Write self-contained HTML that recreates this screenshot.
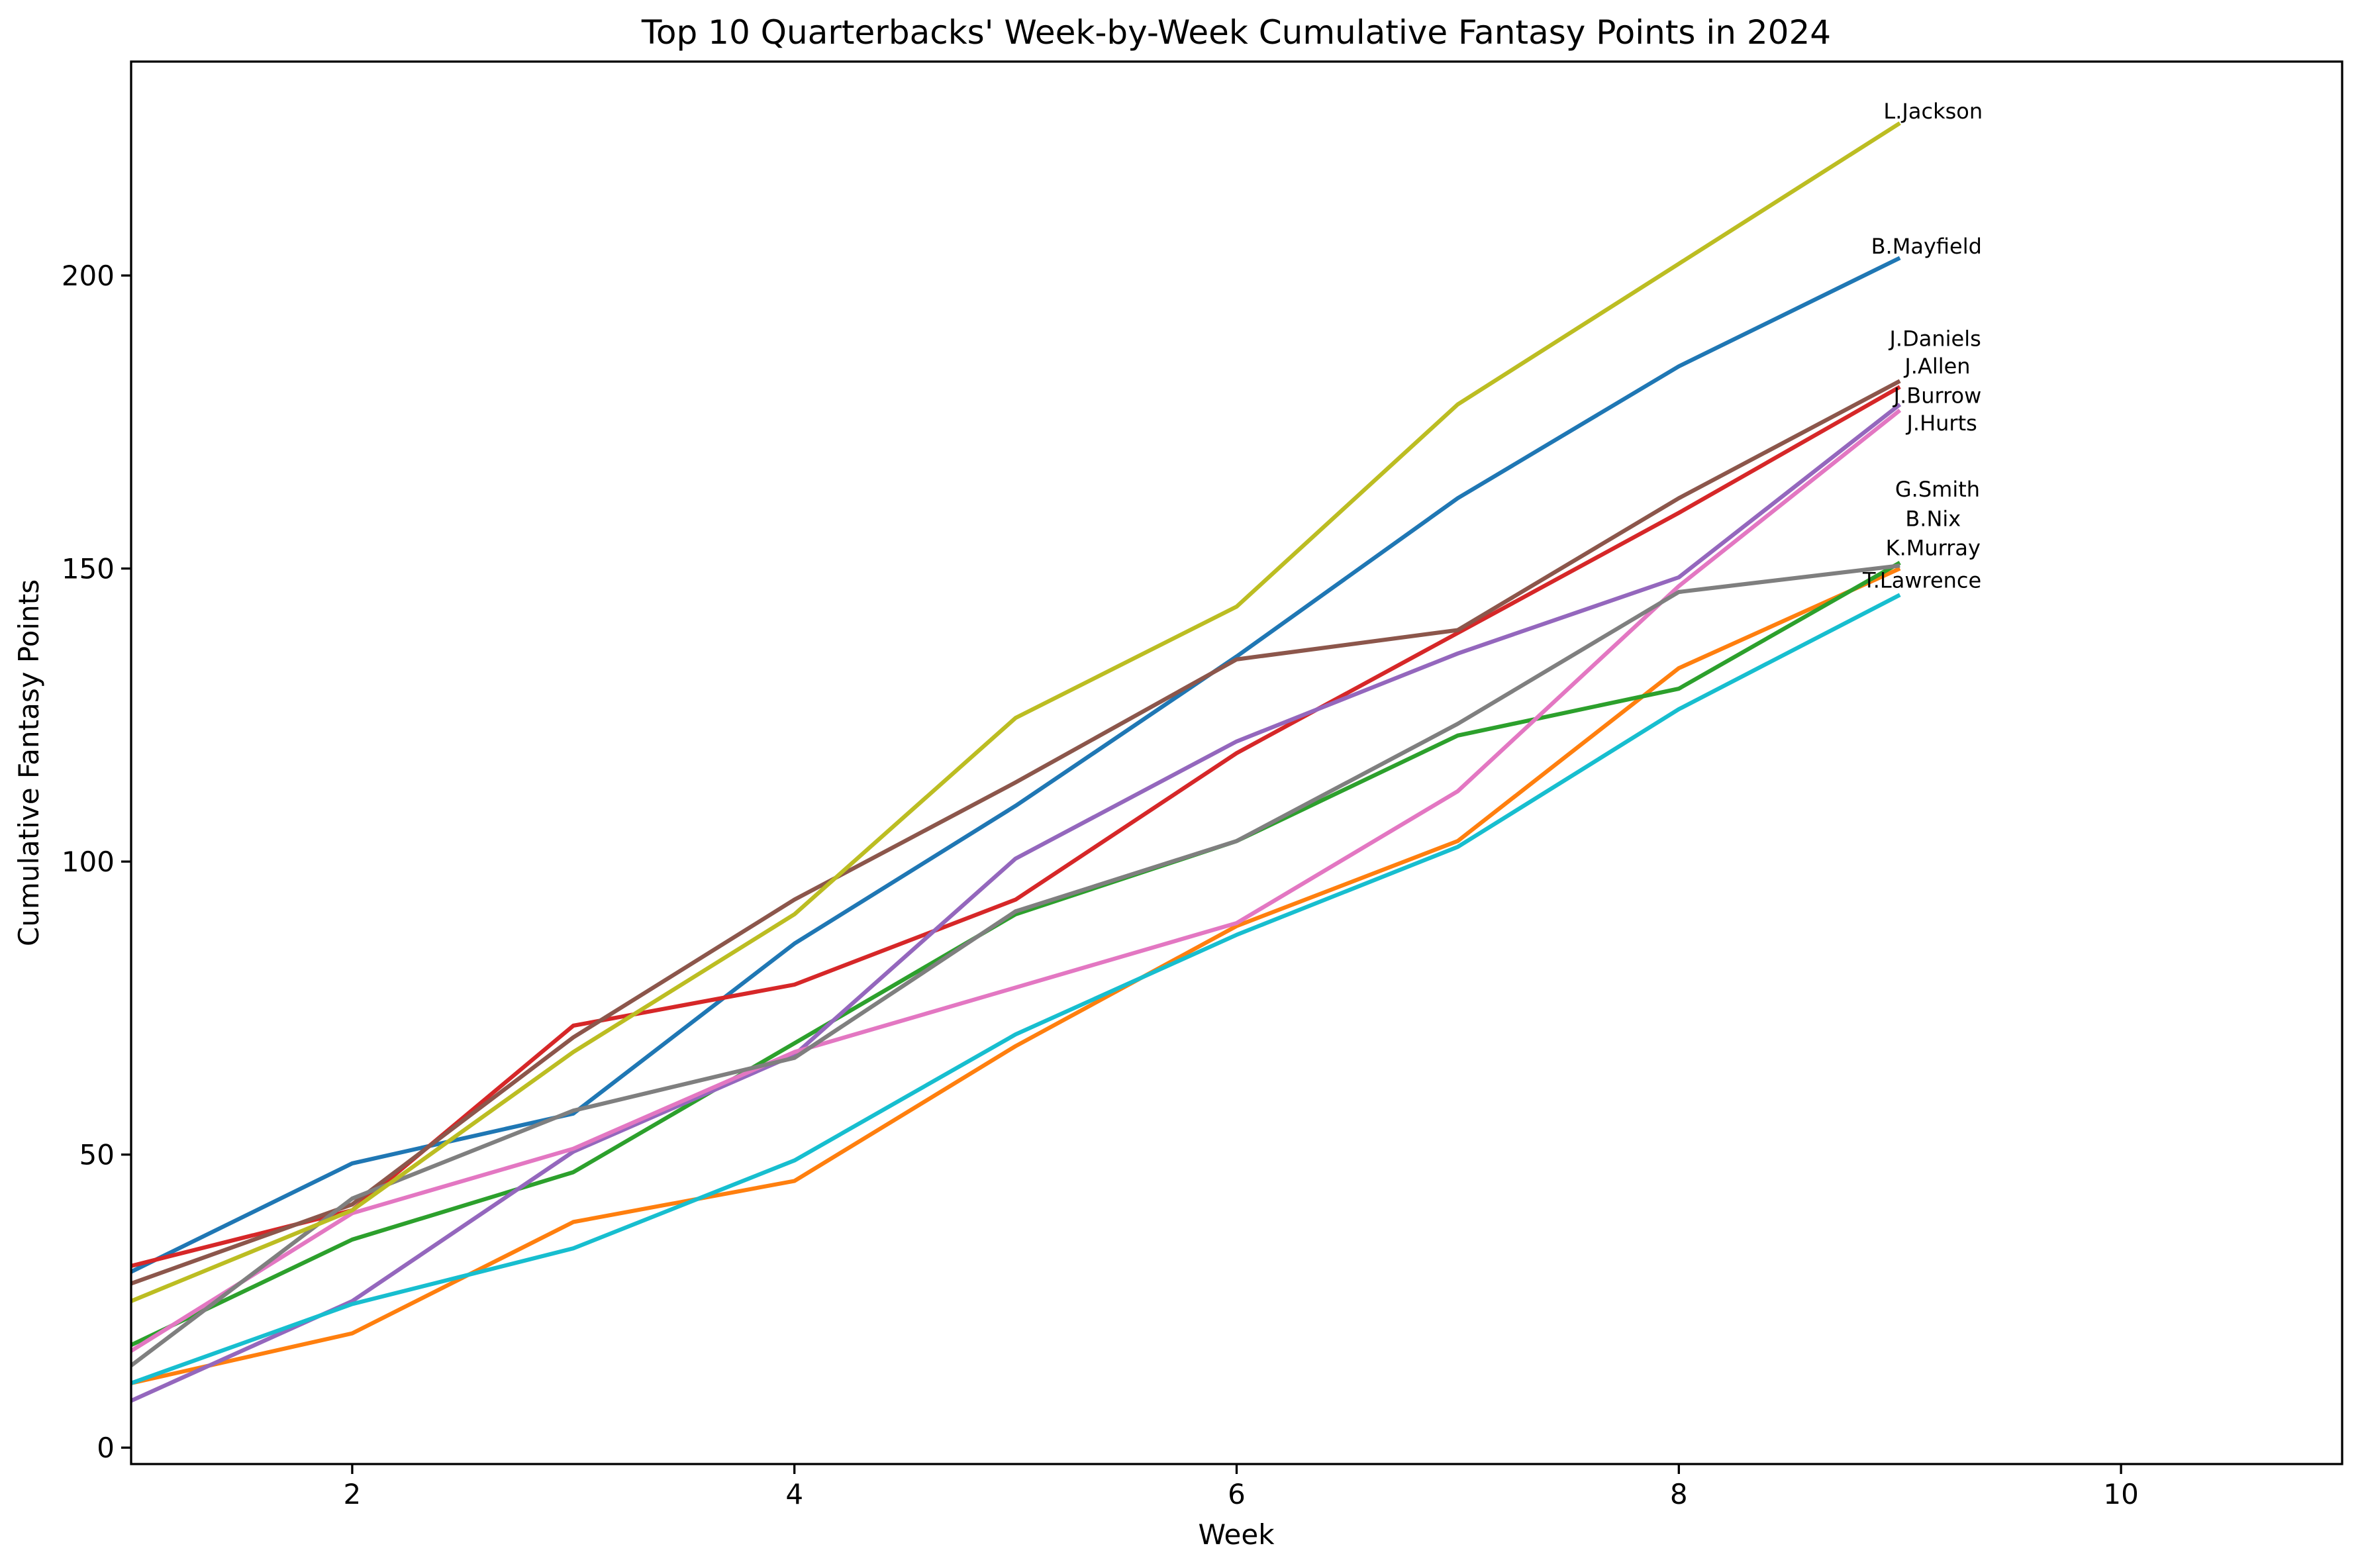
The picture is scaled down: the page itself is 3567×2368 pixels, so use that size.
<!DOCTYPE html>
<html><head><meta charset="utf-8"><style>
html,body{margin:0;padding:0;background:#fff;}
svg{display:block;font-family:"DejaVu Sans","Liberation Sans",sans-serif;}
</style></head><body>
<svg id="chart" width="3567" height="2368" viewBox="0 0 3567 2368" xmlns="http://www.w3.org/2000/svg">
<rect width="3567" height="2368" fill="#fff"/>
<text x="1867" y="66" font-size="50" text-anchor="middle">Top 10 Quarterbacks' Week-by-Week Cumulative Fantasy Points in 2024</text>
<g id="series"></g>
<g id="labels"></g>
<rect x="198" y="93" width="3339" height="2118" fill="none" stroke="#000" stroke-width="3.3"/>
<g id="ticks"></g>
<text x="1867" y="2332" font-size="42" text-anchor="middle">Week</text>
<text x="58" y="1152" font-size="42" text-anchor="middle" transform="rotate(-90 58 1152)">Cumulative Fantasy Points</text>
</svg>
<script>
const weeks = [1,2,3,4,5,6,7,8,9];
const mayfield = [30,48.5,57,86,109.5,135,162,184.5,203];
const seriesOrange = [11,19.5,38.5,45.5,68.5,89,103.5,133,150];
const seriesGreen = [17.5,35.5,47,69,91,103.5,121.5,129.5,151];
const seriesRed = [31,40.5,72,79,93.5,118.5,139,159.5,181];
const seriesPurple = [8,25,50.5,67,100.5,120.5,135.5,148.5,178];
const seriesBrown = [28,41.5,70,93.5,113.5,134.5,139.5,162,182];
const seriesPink = [16.5,40,51,67.5,78.5,89.5,112,147,177];
const seriesGray = [14,42.5,57.5,66.5,91.5,103.5,123.5,146,150.5];
const jackson = [25,40.5,67.5,91,124.5,143.5,178,202,226];
const seriesCyan = [11,24.5,34,49,70.5,87.5,102.5,126,145.5];
const xTicks = [2,4,6,8,10];
const yTicks = [0,50,100,150,200];
const labelNames = ["L.Jackson","B.Mayfield","J.Daniels","J.Allen","J.Burrow","J.Hurts","G.Smith","B.Nix","K.Murray","T.Lawrence"];
const labelValues = [228,205,189.2,184.5,179.5,174.8,163.5,158.5,153.5,148];
const labelWeeks = [9.15,9.12,9.16,9.17,9.17,9.19,9.17,9.15,9.15,9.10];

const X0=198,X1=3537,Y0=93,Y1=2211;
const xMin=1,xMax=11,yMin=-2.8,yMax=236.5;
const xs=v=>X0+(v-xMin)/(xMax-xMin)*(X1-X0);
const ys=v=>Y1-(v-yMin)/(yMax-yMin)*(Y1-Y0);
const NS="http://www.w3.org/2000/svg";
const all=[
 ["b-mayfield",mayfield,"#1f77b4"],["series-orange",seriesOrange,"#ff7f0e"],["series-green",seriesGreen,"#2ca02c"],
 ["series-red",seriesRed,"#d62728"],["series-purple",seriesPurple,"#9467bd"],["series-brown",seriesBrown,"#8c564b"],
 ["series-pink",seriesPink,"#e377c2"],["series-gray",seriesGray,"#7f7f7f"],["l-jackson",jackson,"#bcbd22"],["series-cyan",seriesCyan,"#17becf"]];
const g=document.getElementById('series');
all.forEach(([n,d,c])=>{
 const p=document.createElementNS(NS,'polyline');
 p.setAttribute('points',d.map((v,i)=>xs(weeks[i])+','+ys(v)).join(' '));
 p.setAttribute('fill','none');p.setAttribute('stroke',c);p.setAttribute('stroke-width','6.2');p.setAttribute('stroke-linejoin','round');
 
 
 g.appendChild(p);
});
const lg=document.getElementById('labels');
labelNames.forEach((t,i)=>{
 const e=document.createElementNS(NS,'text');
 e.setAttribute('x',xs(labelWeeks[i]));e.setAttribute('y',ys(labelValues[i])+11);
 e.setAttribute('font-size','32');e.setAttribute('text-anchor','middle');
 e.textContent=t;
 
 
 lg.appendChild(e);
});
const tg=document.getElementById('ticks');
xTicks.forEach(v=>{
 const l=document.createElementNS(NS,'line');
 l.setAttribute('x1',xs(v));l.setAttribute('x2',xs(v));l.setAttribute('y1',Y1);l.setAttribute('y2',Y1+15);
 l.setAttribute('stroke','#000');l.setAttribute('stroke-width','3.3');
 
 
 tg.appendChild(l);
 const t=document.createElementNS(NS,'text');
 t.setAttribute('x',xs(v));t.setAttribute('y',Y1+60);t.setAttribute('font-size','42');t.setAttribute('text-anchor','middle');
 t.textContent=v;
 
 
 tg.appendChild(t);
});
yTicks.forEach(v=>{
 const l=document.createElementNS(NS,'line');
 l.setAttribute('x1',X0-15);l.setAttribute('x2',X0);l.setAttribute('y1',ys(v));l.setAttribute('y2',ys(v));
 l.setAttribute('stroke','#000');l.setAttribute('stroke-width','3.3');
 
 
 tg.appendChild(l);
 const t=document.createElementNS(NS,'text');
 t.setAttribute('x',X0-25);t.setAttribute('y',ys(v)+15);t.setAttribute('font-size','42');t.setAttribute('text-anchor','end');
 t.textContent=v;
 
 
 tg.appendChild(t);
});
</script>
</body></html>
